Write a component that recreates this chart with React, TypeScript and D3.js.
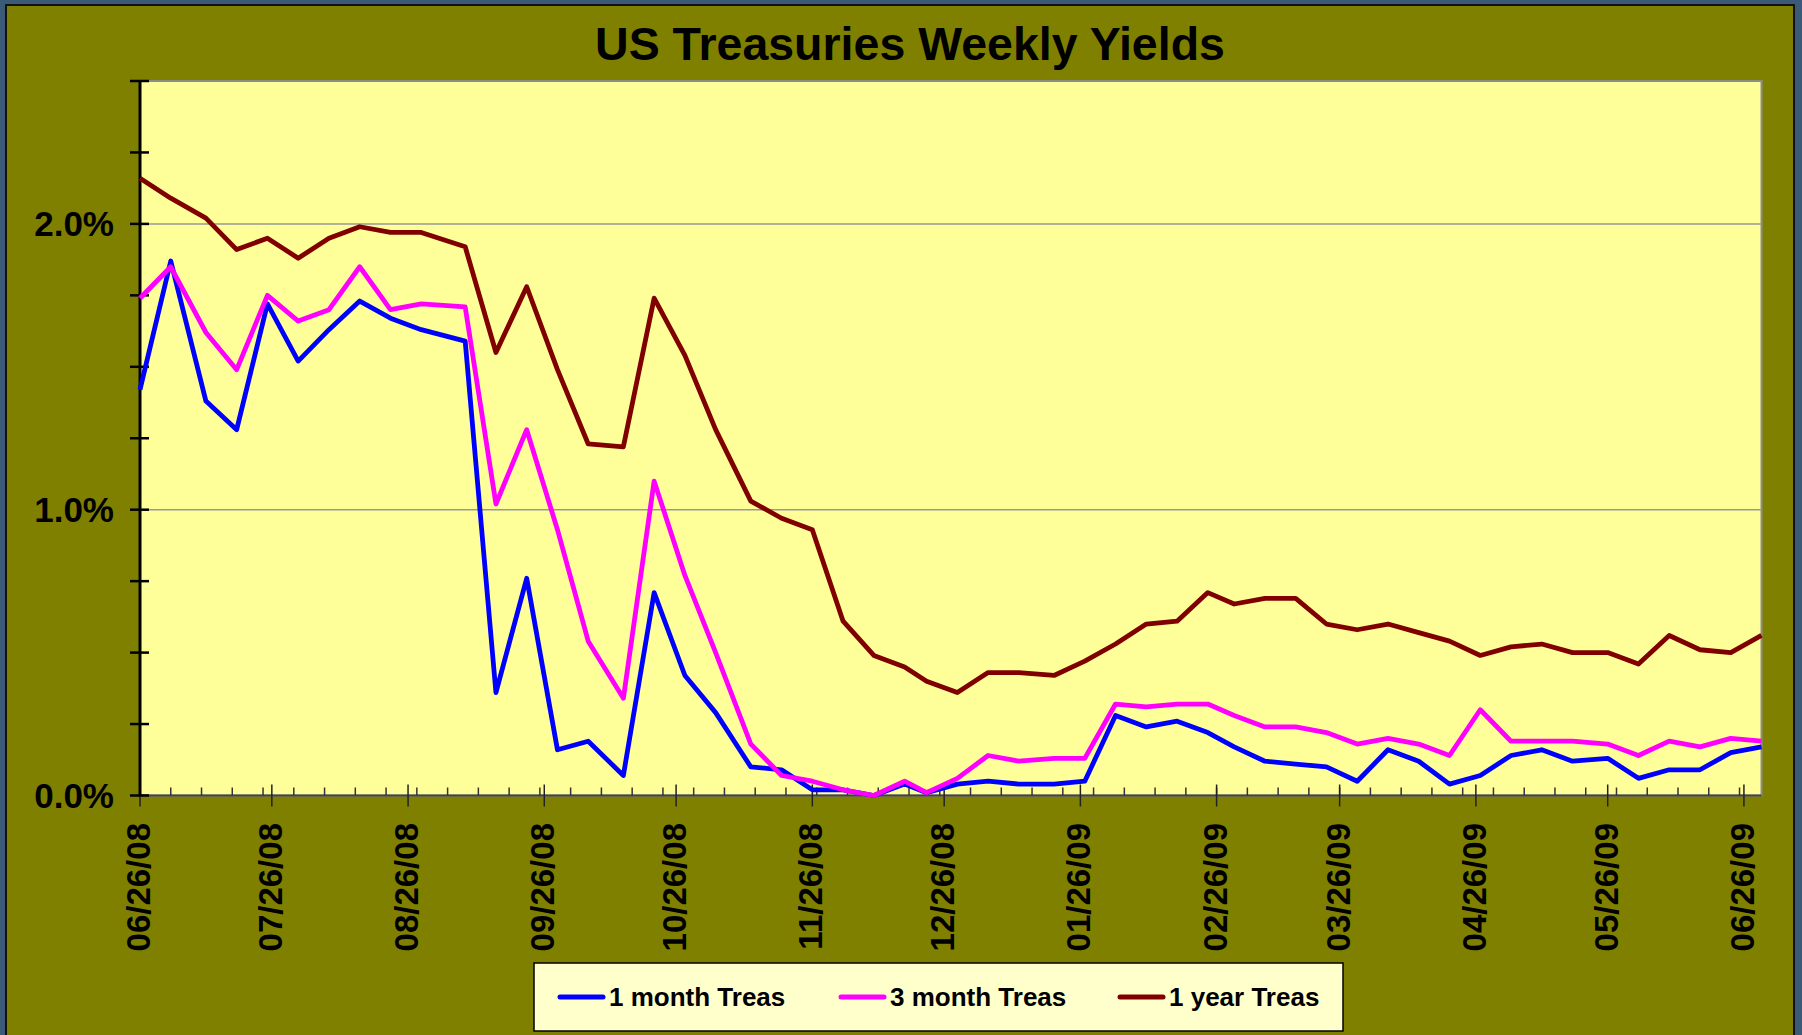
import React, { useEffect, useRef } from 'react';
import * as d3 from 'd3';

const dates = [
  '06/26/08', '07/03/08', '07/11/08', '07/18/08', '07/25/08', '08/01/08', '08/08/08', '08/15/08',
  '08/22/08', '08/29/08', '09/08/08', '09/15/08', '09/22/08', '09/29/08', '10/06/08', '10/14/08',
  '10/21/08', '10/28/08', '11/04/08', '11/12/08', '11/19/08', '11/26/08', '12/03/08', '12/10/08',
  '12/17/08', '12/22/08', '12/29/08', '01/05/09', '01/12/09', '01/20/09', '01/27/09', '02/03/09',
  '02/10/09', '02/17/09', '02/24/09', '03/02/09', '03/09/09', '03/16/09', '03/23/09', '03/30/09',
  '04/06/09', '04/13/09', '04/20/09', '04/27/09', '05/04/09', '05/11/09', '05/18/09', '05/26/09',
  '06/02/09', '06/09/09', '06/16/09', '06/23/09', '06/30/09'
];

// yields in percent
const oneMonth = [
  1.42, 1.87, 1.38, 1.28, 1.72, 1.52, 1.63, 1.73, 1.67, 1.63,
  1.59, 0.36, 0.76, 0.16, 0.19, 0.07, 0.71, 0.42, 0.29, 0.10,
  0.09, 0.02, 0.02, 0.00, 0.04, 0.01, 0.04, 0.05, 0.04, 0.04,
  0.05, 0.28, 0.24, 0.26, 0.22, 0.17, 0.12, 0.11, 0.10, 0.05,
  0.16, 0.12, 0.04, 0.07, 0.14, 0.16, 0.12, 0.13, 0.06, 0.09,
  0.09, 0.15, 0.17
];
const threeMonth = [
  1.74, 1.85, 1.62, 1.49, 1.75, 1.66, 1.70, 1.85, 1.70, 1.72,
  1.71, 1.02, 1.28, 0.93, 0.54, 0.34, 1.10, 0.77, 0.50, 0.18,
  0.07, 0.05, 0.02, 0.00, 0.05, 0.01, 0.06, 0.14, 0.12, 0.13,
  0.13, 0.32, 0.31, 0.32, 0.32, 0.28, 0.24, 0.24, 0.22, 0.18,
  0.20, 0.18, 0.14, 0.30, 0.19, 0.19, 0.19, 0.18, 0.14, 0.19,
  0.17, 0.20, 0.19
];
const oneYear = [
  2.16, 2.09, 2.02, 1.91, 1.95, 1.88, 1.95, 1.99, 1.97, 1.97,
  1.92, 1.55, 1.78, 1.49, 1.23, 1.22, 1.74, 1.54, 1.28, 1.03,
  0.97, 0.93, 0.61, 0.49, 0.45, 0.40, 0.36, 0.43, 0.43, 0.42,
  0.47, 0.53, 0.60, 0.61, 0.71, 0.67, 0.69, 0.69, 0.60, 0.58,
  0.60, 0.57, 0.54, 0.49, 0.52, 0.53, 0.50, 0.50, 0.46, 0.56,
  0.51, 0.50, 0.56
];

const seriesNames = ['1 month Treas', '3 month Treas', '1 year Treas'];
const seriesColors = ['#0000FF', '#FF00FF', '#800000'];
const axisStart = '06/26/08';
const axisEnd = '06/30/09';
const yMax = 2.5;

const W = 1802;
const H = 1035;
const plot = { left: 140, right: 1761.5, top: 81, bottom: 795.5 };
const FONT = '"Liberation Sans", Arial, Helvetica, sans-serif';

export default function App() {
  const ref = useRef<SVGSVGElement | null>(null);

  useEffect(() => {
    const svg = d3.select(ref.current);
    svg.selectAll('*').remove();

    const parse = d3.timeParse('%m/%d/%y');
    const fmt = d3.timeFormat('%m/%d/%y');
    const start = parse(axisStart) as Date;
    const end = parse(axisEnd) as Date;

    const x = d3.scaleTime().domain([start, end]).range([plot.left, plot.right]);
    const y = d3.scaleLinear().domain([0, yMax]).range([plot.bottom, plot.top]);

    // frame
    svg.append('rect').attr('width', W).attr('height', H).attr('fill', '#3A5A77');
    svg.append('rect')
      .attr('x', 6).attr('y', 5).attr('width', 1788).attr('height', H)
      .attr('fill', '#808000').attr('stroke', '#111').attr('stroke-width', 2);

    // plot area
    svg.append('rect')
      .attr('x', plot.left).attr('y', plot.top)
      .attr('width', plot.right - plot.left).attr('height', plot.bottom - plot.top)
      .attr('fill', '#FFFF99').attr('stroke', '#8c8c8c').attr('stroke-width', 2);

    // gridlines
    svg.append('g').selectAll('line')
      .data([1, 2])
      .enter().append('line')
      .attr('x1', plot.left).attr('x2', plot.right)
      .attr('y1', (d) => y(d)).attr('y2', (d) => y(d))
      .attr('stroke', '#999').attr('stroke-width', 1.5);

    // title
    svg.append('text')
      .attr('x', 910).attr('y', 60)
      .attr('text-anchor', 'middle')
      .style('font-family', FONT).style('font-weight', 'bold').style('font-size', '46.5px')
      .text('US Treasuries Weekly Yields');

    // x axis
    const minorTicks = d3.range(0, 53).map((k) => d3.timeDay.offset(start, 7 * k));
    const majorTicks = d3.range(0, 13).map((k) => d3.timeMonth.offset(start, k));

    svg.append('line')
      .attr('x1', plot.left).attr('x2', plot.right)
      .attr('y1', plot.bottom).attr('y2', plot.bottom)
      .attr('stroke', '#444').attr('stroke-width', 2);

    svg.append('g').selectAll('line')
      .data(minorTicks)
      .enter().append('line')
      .attr('x1', (d) => x(d)).attr('x2', (d) => x(d))
      .attr('y1', plot.bottom - 8).attr('y2', plot.bottom)
      .attr('stroke', '#333').attr('stroke-width', 1.5);

    svg.append('g').selectAll('line')
      .data(majorTicks)
      .enter().append('line')
      .attr('x1', (d) => x(d)).attr('x2', (d) => x(d))
      .attr('y1', plot.bottom - 11).attr('y2', plot.bottom + 11)
      .attr('stroke', '#222').attr('stroke-width', 1.5);

    svg.append('g').selectAll('text')
      .data(majorTicks)
      .enter().append('text')
      .attr('transform', (d) => `translate(${x(d) + 10}, 823) rotate(-90)`)
      .attr('text-anchor', 'end')
      .style('font-family', FONT).style('font-weight', 'bold').style('font-size', '33px')
      .text((d) => fmt(d));

    // y axis
    svg.append('line')
      .attr('x1', plot.left).attr('x2', plot.left)
      .attr('y1', plot.top).attr('y2', plot.bottom)
      .attr('stroke', '#000').attr('stroke-width', 3);

    svg.append('g').selectAll('line')
      .data(d3.range(0, yMax + 0.001, 0.25))
      .enter().append('line')
      .attr('x1', plot.left - 10).attr('x2', plot.left + 9)
      .attr('y1', (d) => y(d)).attr('y2', (d) => y(d))
      .attr('stroke', '#000').attr('stroke-width', 2.5);

    svg.append('g').selectAll('text')
      .data([0, 1, 2])
      .enter().append('text')
      .attr('x', 114).attr('y', (d) => y(d) + 12)
      .attr('text-anchor', 'end')
      .style('font-family', FONT).style('font-weight', 'bold').style('font-size', '35px')
      .text((d) => d.toFixed(1) + '%');

    // series
    const series = [oneMonth, threeMonth, oneYear];
    const line = d3.line<number>()
      .x((_, i) => x(parse(dates[i]) as Date))
      .y((d) => y(d));

    svg.append('g').selectAll('path')
      .data(series)
      .enter().append('path')
      .attr('d', (d) => line(d))
      .attr('fill', 'none')
      .attr('stroke', (_, i) => seriesColors[i])
      .attr('stroke-width', 4.8)
      .attr('stroke-linejoin', 'round');

    // legend
    const legend = svg.append('g');
    legend.append('rect')
      .attr('x', 534).attr('y', 963).attr('width', 809).attr('height', 68)
      .attr('fill', '#FFFFCC').attr('stroke', '#000').attr('stroke-width', 1.5);
    const itemX = [560, 841, 1120];
    const item = legend.selectAll('g.item')
      .data(seriesNames)
      .enter().append('g')
      .attr('class', 'item')
      .attr('transform', (_, i) => `translate(${itemX[i]}, 997)`);
    item.append('line')
      .attr('x1', 0).attr('x2', 43).attr('y1', 0).attr('y2', 0)
      .attr('stroke', (_, i) => seriesColors[i])
      .attr('stroke-width', 5).attr('stroke-linecap', 'round');
    item.append('text')
      .attr('x', 49).attr('y', 9)
      .style('font-family', FONT).style('font-weight', 'bold').style('font-size', '26px')
      .text((d) => d);
  }, []);

  return (
    <div style={{ position: 'absolute', left: 0, top: 0 }}>
      <svg ref={ref} width={W} height={H} style={{ display: 'block' }} />
    </div>
  );
}
